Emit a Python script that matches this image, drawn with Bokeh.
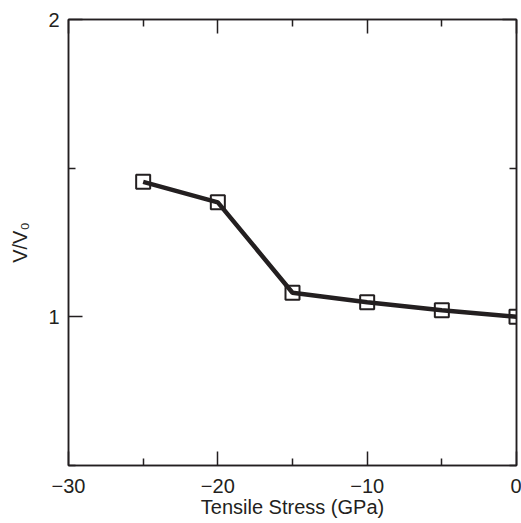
from bokeh.plotting import figure
from bokeh.models import LinearAxis, FixedTicker, Range1d
from bokeh.embed import file_html
from bokeh.resources import INLINE

# data
stress = [-25, -20, -15, -10, -5, 0]
v_ratio = [1.454, 1.385, 1.081, 1.049, 1.022, 1.0]

x_major = [-30, -20, -10, 0]
x_minor = [-25, -15, -5]
x_labels = {-30: "\u221230", -20: "\u221220", -10: "\u221210", 0: "0"}
y_major = [1, 2]
y_minor = [0.5, 1.5]
y_labels = {1: "1", 2: "2"}

INK = "#231f20"
FONT = "Liberation Sans"

p = figure(frame_width=448, frame_height=446,
           x_range=Range1d(-30, 0), y_range=Range1d(0.5, 2),
           output_backend="svg", toolbar_location=None,
           x_axis_label="Tensile Stress (GPa)", y_axis_label="V/V\u2080",
           min_border_left=68, min_border_right=5, min_border_top=19, min_border_bottom=40)

p.grid.visible = False
p.outline_line_color = INK
p.outline_line_width = 1.5
p.background_fill_color = "white"
p.border_fill_color = "white"

xt = FixedTicker(ticks=x_major, minor_ticks=x_minor)
yt = FixedTicker(ticks=y_major, minor_ticks=y_minor)

def style(ax, show_labels):
    ax.axis_line_color = INK
    ax.axis_line_width = 1.5
    ax.major_tick_line_color = INK
    ax.minor_tick_line_color = INK
    ax.major_tick_line_width = 1.5
    ax.minor_tick_line_width = 1.5
    ax.major_tick_in = 14
    ax.major_tick_out = 0
    ax.minor_tick_in = 7
    ax.minor_tick_out = 0
    ax.major_label_text_font = FONT
    ax.major_label_text_color = INK
    ax.major_label_text_font_size = "20px" if show_labels else "0px"
    ax.axis_label_text_font = FONT
    ax.axis_label_text_font_style = "normal"
    ax.axis_label_text_color = INK
    ax.axis_label_text_font_size = "20px"
    if not show_labels:
        ax.major_label_standoff = 0
        ax.axis_label = None
        ax.axis_label_standoff = 0

style(p.xaxis[0], True)
style(p.yaxis[0], True)
p.xaxis[0].ticker = xt
p.yaxis[0].ticker = yt
p.xaxis[0].major_label_overrides = x_labels
p.yaxis[0].major_label_overrides = y_labels
p.xaxis[0].major_label_standoff = 13
p.yaxis[0].major_label_standoff = 9
p.xaxis[0].axis_label_standoff = 0
p.yaxis[0].axis_label_standoff = 14

top = LinearAxis(ticker=FixedTicker(ticks=x_major, minor_ticks=x_minor))
right = LinearAxis(ticker=FixedTicker(ticks=y_major, minor_ticks=y_minor))
style(top, False)
style(right, False)
top.major_label_overrides = {t: "" for t in x_major}
right.major_label_overrides = {t: "" for t in y_major}
p.add_layout(top, "above")
p.add_layout(right, "right")

p.line(stress, v_ratio, line_color=INK, line_width=4.5)
p.scatter(stress, v_ratio, marker="square", size=14, fill_color=None,
          line_color=INK, line_width=2)

open("out.html", "w").write(file_html(p, INLINE))
